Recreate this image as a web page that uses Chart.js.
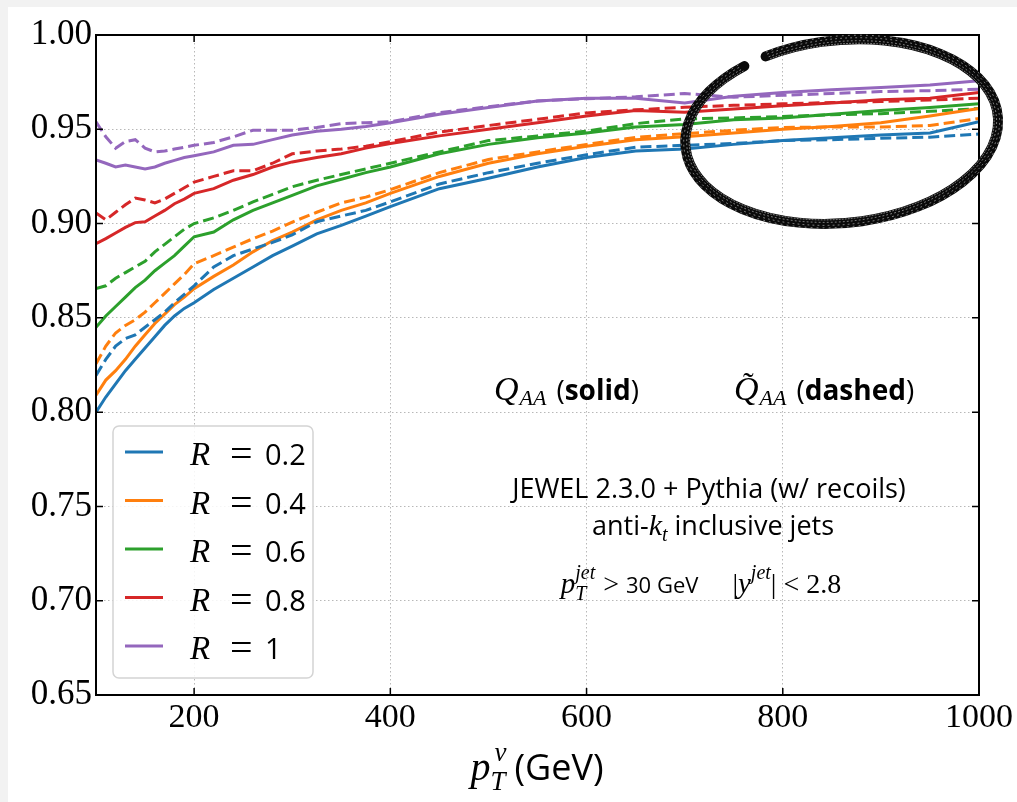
<!DOCTYPE html>
<html>
<head>
<meta charset="utf-8">
<script src="https://cdn.jsdelivr.net/npm/chart.js@4.4.1/dist/chart.umd.min.js"></script>
<style>
  html, body { margin: 0; padding: 0; background: #f2f2f2; }
  #wrap { position: absolute; left: 8px; top: 7px; width: 1009px; height: 795px; background: #fff; }
</style>
</head>
<body>
<div id="wrap"><canvas id="myChart" width="1009" height="795"></canvas></div>
<script>
// jet pT grid (GeV)
const pt = [100, 110, 120, 130, 140, 150, 160, 170, 180, 190, 200, 220, 240, 260, 280, 300, 325, 350, 375, 400,
            450, 500, 550, 600, 650, 700, 750, 800, 850, 900, 950, 1000];

// Q_AA (solid) per jet radius
const qR02 = [0.800, 0.808, 0.815, 0.822, 0.828, 0.834, 0.840, 0.846, 0.851, 0.855, 0.858, 0.865, 0.871, 0.877, 0.883, 0.888,
              0.8945, 0.899, 0.904, 0.909, 0.9185, 0.924, 0.930, 0.935, 0.9385, 0.9395, 0.942, 0.944, 0.9455, 0.947, 0.948, 0.954];
const qR04 = [0.809, 0.817, 0.822, 0.828, 0.835, 0.841, 0.847, 0.852, 0.857, 0.861, 0.8655, 0.872, 0.878, 0.885, 0.891, 0.8955,
              0.902, 0.907, 0.911, 0.916, 0.925, 0.932, 0.937, 0.941, 0.9445, 0.946, 0.948, 0.950, 0.9515, 0.9535, 0.957, 0.961];
const qR06 = [0.845, 0.851, 0.856, 0.861, 0.866, 0.870, 0.875, 0.879, 0.883, 0.888, 0.893, 0.8955, 0.902, 0.907, 0.911, 0.915,
              0.920, 0.9235, 0.927, 0.930, 0.937, 0.942, 0.9455, 0.948, 0.9512, 0.9525, 0.955, 0.956, 0.958, 0.960, 0.9615, 0.9635];
const qR08 = [0.8893, 0.892, 0.895, 0.898, 0.9005, 0.901, 0.904, 0.907, 0.9105, 0.913, 0.916, 0.9185, 0.923, 0.926, 0.930, 0.9327,
              0.935, 0.937, 0.940, 0.9425, 0.9465, 0.950, 0.9535, 0.957, 0.960, 0.959, 0.9607, 0.9625, 0.964, 0.9657, 0.9665, 0.9695];
const qR10 = [0.9337, 0.932, 0.930, 0.931, 0.930, 0.929, 0.930, 0.932, 0.9335, 0.935, 0.936, 0.938, 0.9415, 0.942, 0.9445, 0.947,
              0.949, 0.950, 0.9515, 0.9535, 0.958, 0.9615, 0.965, 0.9665, 0.9665, 0.964, 0.9675, 0.9695, 0.971, 0.9722, 0.9735, 0.9757];

// Q~_AA (dashed) per jet radius
const qtR02 = [0.8195, 0.828, 0.835, 0.839, 0.841, 0.845, 0.849, 0.853, 0.858, 0.8625, 0.867, 0.877, 0.883, 0.8865, 0.890, 0.894,
               0.901, 0.904, 0.907, 0.9115, 0.921, 0.927, 0.932, 0.9365, 0.9405, 0.9415, 0.9425, 0.944, 0.9445, 0.9452, 0.9458, 0.9475];
const qtR04 = [0.8256, 0.835, 0.842, 0.846, 0.849, 0.853, 0.858, 0.863, 0.868, 0.873, 0.8787, 0.883, 0.8875, 0.892, 0.896, 0.9008,
               0.906, 0.911, 0.914, 0.918, 0.927, 0.934, 0.938, 0.942, 0.9457, 0.9477, 0.9495, 0.951, 0.9512, 0.9512, 0.952, 0.9557];
const qtR06 = [0.8655, 0.867, 0.871, 0.874, 0.877, 0.880, 0.885, 0.889, 0.893, 0.897, 0.900, 0.903, 0.907, 0.9115, 0.9155, 0.9195,
               0.923, 0.926, 0.929, 0.932, 0.938, 0.944, 0.9465, 0.949, 0.953, 0.9555, 0.956, 0.9568, 0.9577, 0.9583, 0.9595, 0.961];
const qtR08 = [0.9056, 0.902, 0.906, 0.910, 0.9135, 0.9125, 0.911, 0.913, 0.916, 0.919, 0.922, 0.925, 0.928, 0.928, 0.932, 0.937,
               0.9385, 0.9395, 0.941, 0.9435, 0.9485, 0.952, 0.9553, 0.9587, 0.9603, 0.9617, 0.9627, 0.9635, 0.9642, 0.9647, 0.9655, 0.9665];
const qtR10 = [0.954, 0.946, 0.940, 0.9435, 0.9445, 0.940, 0.938, 0.9385, 0.9395, 0.9405, 0.9415, 0.943, 0.946, 0.9495, 0.9495, 0.9495,
               0.951, 0.953, 0.9535, 0.954, 0.9588, 0.962, 0.965, 0.9662, 0.9672, 0.969, 0.967, 0.968, 0.969, 0.970, 0.9705, 0.9712];

const radii = ['0.2', '0.4', '0.6', '0.8', '1'];
const solid = [qR02, qR04, qR06, qR08, qR10];
const dashed = [qtR02, qtR04, qtR06, qtR08, qtR10];
const colors = ['#1f77b4', '#ff7f0e', '#2ca02c', '#d62728', '#9467bd'];

const xTicks = [200, 400, 600, 800, 1000];
const yTicks = [0.65, 0.70, 0.75, 0.80, 0.85, 0.90, 0.95, 1.00];

// hand-drawn ring around the high-pT region: centre (GeV, value), half-axes, tilt
const ring = { x: 860, y: 0.9488, dx: 160, dy: 0.0485, tilt: -0.1 };

const SERIF = '"Liberation Serif", "DejaVu Serif", serif';
const SANS = '"Open Sans", "DejaVu Sans", sans-serif';

function toPoints(arr) {
    return arr.map((v, i) => ({ x: pt[i], y: v }));
}

const datasets = [];
radii.forEach((r, i) => {
    datasets.push({ label: 'R = ' + r, data: toPoints(solid[i]), borderColor: colors[i], borderWidth: 3,
                    pointRadius: 0, tension: 0, fill: false });
    datasets.push({ label: 'R = ' + r + ' (dashed)', data: toPoints(dashed[i]), borderColor: colors[i], borderWidth: 3,
                    borderDash: [11, 5], pointRadius: 0, tension: 0, fill: false });
});

// draws a row of text pieces; a piece with sup/sub stacks both at the same x
function drawRuns(ctx, runs, x, y, align) {
    const w = r => {
        ctx.font = r.f;
        if (r.t !== undefined) return ctx.measureText(r.t).width + (r.gap || 0);
        return Math.max(ctx.measureText(r.sup || '').width, ctx.measureText(r.sub || '').width) + (r.gap || 0);
    };
    const total = runs.reduce((s, r) => s + w(r), 0);
    let cx = align === 'center' ? x - total / 2 : x;
    runs.forEach(r => {
        const adv = w(r);
        ctx.font = r.f;
        if (r.t !== undefined) ctx.fillText(r.t, cx, y + (r.dy || 0));
        if (r.sup) ctx.fillText(r.sup, cx + (r.supX || 0), y + r.up);
        if (r.sub) ctx.fillText(r.sub, cx, y + r.down);
        if (r.tilde) {
            ctx.font = r.tilde;
            ctx.fillText('\u02DC', cx + (r.tildeX || 0), y + (r.tildeY || 0));
        }
        cx += adv;
    });
}

const decor = {
    id: 'decor',
    afterDraw(chart) {
        const { ctx, chartArea: a, scales: { x, y } } = chart;
        ctx.save();

        // inward ticks on all four sides, then the frame
        ctx.strokeStyle = '#000';
        ctx.lineWidth = 1.5;
        ctx.beginPath();
        xTicks.forEach(v => {
            const px = x.getPixelForValue(v);
            ctx.moveTo(px, a.bottom); ctx.lineTo(px, a.bottom - 7);
            ctx.moveTo(px, a.top); ctx.lineTo(px, a.top + 7);
        });
        yTicks.forEach(v => {
            const py = y.getPixelForValue(v);
            ctx.moveTo(a.left, py); ctx.lineTo(a.left + 7, py);
            ctx.moveTo(a.right, py); ctx.lineTo(a.right - 7, py);
        });
        ctx.stroke();
        ctx.lineWidth = 2;
        ctx.strokeRect(a.left, a.top, a.right - a.left, a.bottom - a.top);

        // legend
        const lx = 105, ly = 419, lw = 200, lh = 252;
        ctx.fillStyle = 'rgba(255,255,255,0.85)';
        ctx.strokeStyle = '#d4d4d4';
        ctx.lineWidth = 1.5;
        ctx.beginPath();
        ctx.roundRect(lx, ly, lw, lh, 6);
        ctx.fill();
        ctx.stroke();
        radii.forEach((r, i) => {
            const ey = ly + 26 + i * 48.5;
            ctx.strokeStyle = colors[i];
            ctx.lineWidth = 3;
            ctx.beginPath();
            ctx.moveTo(lx + 12, ey);
            ctx.lineTo(lx + 50, ey);
            ctx.stroke();
            ctx.fillStyle = '#000';
            ctx.textAlign = 'left';
            ctx.textBaseline = 'alphabetic';
            ctx.font = 'italic 33px ' + SERIF;
            ctx.fillText('R', lx + 77, ey + 13);
            ctx.font = '40px ' + SERIF;
            ctx.fillText('=', lx + 117, ey + 15);
            ctx.font = '29px ' + SANS;
            ctx.fillText(r, lx + 152, ey + 13);
        });

        ctx.fillStyle = '#000';
        ctx.textAlign = 'left';
        ctx.textBaseline = 'alphabetic';

        // Q_AA (solid)   Q~_AA (dashed)
        drawRuns(ctx, [
            { t: 'Q', f: 'italic 34px ' + SERIF, gap: 1 },
            { t: 'AA', f: 'italic 22px ' + SERIF, dy: 5, gap: 10 },
            { t: '(', f: '28px ' + SANS },
            { t: 'solid', f: 'bold 28px ' + SANS },
            { t: ')', f: '28px ' + SANS }
        ], 486, 393, 'left');
        drawRuns(ctx, [
            { t: 'Q', f: 'italic 34px ' + SERIF, tilde: '32px ' + SERIF, tildeX: 9, tildeY: -6, gap: 1 },
            { t: 'AA', f: 'italic 22px ' + SERIF, dy: 5, gap: 10 },
            { t: '(', f: '28px ' + SANS },
            { t: 'dashed', f: 'bold 28px ' + SANS },
            { t: ')', f: '28px ' + SANS }
        ], 726, 393, 'left');

        drawRuns(ctx, [{ t: 'JEWEL 2.3.0 + Pythia (w/ recoils)', f: '27px ' + SANS }], 701, 491, 'center');
        drawRuns(ctx, [
            { t: 'anti-', f: '27px ' + SANS },
            { t: 'k', f: 'italic 30px ' + SERIF },
            { t: 't', f: 'italic 20px ' + SERIF, dy: 6, gap: 7 },
            { t: 'inclusive jets', f: '27px ' + SANS }
        ], 705, 528, 'center');
        drawRuns(ctx, [
            { t: 'p', f: 'italic 29px ' + SERIF },
            { sup: 'jet', sub: 'T', f: 'italic 20px ' + SERIF, up: -14, down: 7, gap: 8 },
            { t: '> ', f: '28px ' + SERIF },
            { t: '30 GeV', f: '22px ' + SANS, gap: 34 },
            { t: '|', f: '28px ' + SERIF },
            { t: 'y', f: 'italic 29px ' + SERIF },
            { sup: 'jet', f: 'italic 20px ' + SERIF, up: -14 },
            { t: '| < 2.8', f: '28px ' + SERIF }
        ], 693, 586, 'center');

        // x-axis title
        drawRuns(ctx, [
            { t: 'p', f: 'italic 40px ' + SERIF },
            { sup: 'v', sub: 'T', f: 'italic 27px ' + SERIF, supX: 4, up: -19, down: 10, gap: 9 },
            { t: '(GeV)', f: '36px ' + SANS }
        ], 529, 773, 'center');

        // the ring, drawn as a heavy stroke with a little grain on top
        const cx = x.getPixelForValue(ring.x);
        const cy = y.getPixelForValue(ring.y);
        const rx = x.getPixelForValue(ring.x + ring.dx) - cx;
        const ry = cy - y.getPixelForValue(ring.y + ring.dy);
        const a0 = -2.02, a1 = 4.1;
        ctx.lineCap = 'round';
        ctx.strokeStyle = '#0a0a0a';
        ctx.lineWidth = 10;
        ctx.beginPath();
        ctx.ellipse(cx, cy, rx, ry, ring.tilt, a0, a1);
        ctx.stroke();
        ctx.strokeStyle = 'rgba(255,255,255,0.5)';
        ctx.lineWidth = 1;
        [-4, -1.5, 1.5, 4].forEach((o, k) => {
            ctx.setLineDash([1, 2 + k]);
            ctx.beginPath();
            ctx.ellipse(cx, cy, rx + o, ry + o, ring.tilt, a0 + 0.02, a1 - 0.02);
            ctx.stroke();
        });
        ctx.restore();
    }
};

const ctx = document.getElementById('myChart').getContext('2d');
const myChart = new Chart(ctx, {
    type: 'line',
    data: { datasets: datasets },
    options: {
        responsive: false,
        animation: false,
        layout: { padding: { top: 28, right: 38, left: 0, bottom: 0 } },
        plugins: { legend: { display: false }, tooltip: { enabled: false } },
        scales: {
            x: {
                type: 'linear',
                min: 100,
                max: 1000,
                afterBuildTicks: s => { s.ticks = xTicks.map(v => ({ value: v })); },
                afterFit: s => { s.height = 107; },
                grid: { color: '#b8b8b8', lineWidth: 1, drawTicks: false },
                border: { display: false, dash: [1.5, 2.5] },
                ticks: { color: '#000', padding: 3, maxRotation: 0, font: { family: SERIF, size: 34 },
                         callback: v => String(v) }
            },
            y: {
                min: 0.65,
                max: 1.00,
                afterBuildTicks: s => { s.ticks = yTicks.map(v => ({ value: v })); },
                afterFit: s => { s.width = 88; },
                grid: { color: '#b8b8b8', lineWidth: 1, drawTicks: false },
                border: { display: false, dash: [1.5, 2.5] },
                ticks: { color: '#000', padding: 4, font: { family: SERIF, size: 35 },
                         callback: v => v.toFixed(2) }
            }
        }
    },
    plugins: [decor]
});
</script>
</body>
</html>
